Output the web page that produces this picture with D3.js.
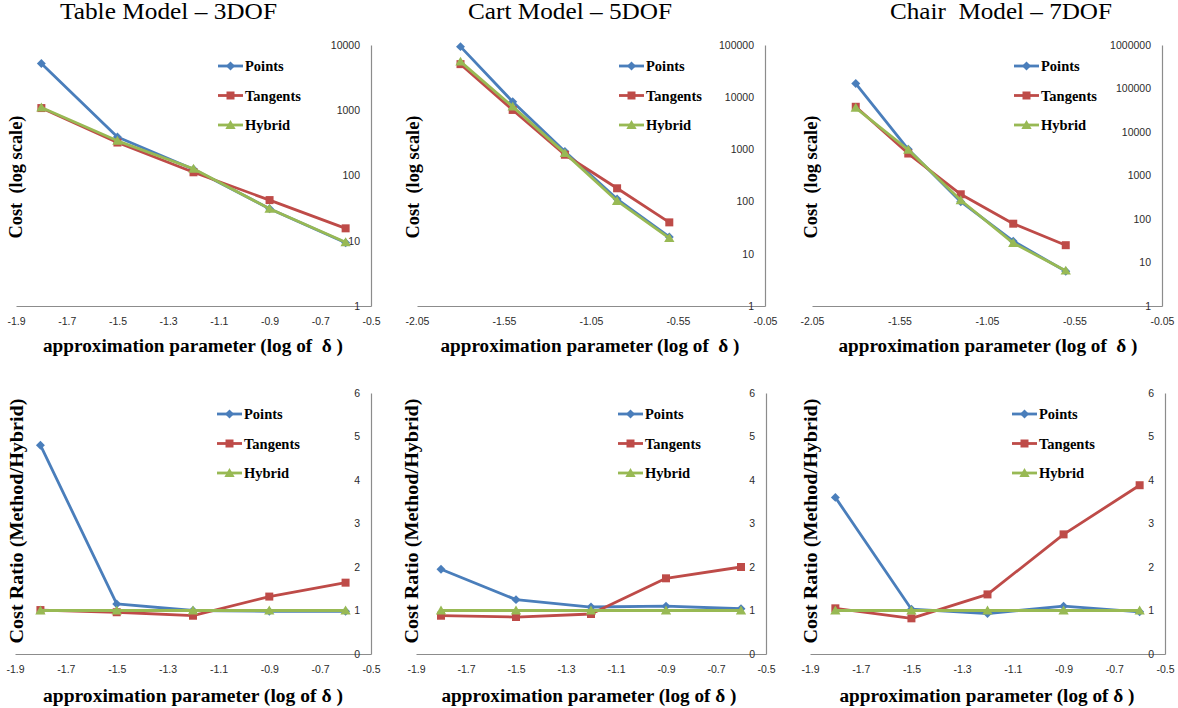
<!DOCTYPE html>
<html>
<head>
<meta charset="utf-8">
<script src="https://cdn.jsdelivr.net/npm/d3@7"></script>
<style>
  body { margin: 0; background: #fff; }
  svg { display: block; }
</style>
</head>
<body>
<div id="chart"></div>
<script>
// x values (log of delta) shared by every panel
const deltas = [-1.8, -1.5, -1.2, -0.9, -0.6];
const seriesNames = ["Points", "Tangents", "Hybrid"];

// cost values
const tablePoints   = [5200, 390, 125, 31, 9.3];
const tableTangents = [1080, 320, 112, 42, 15.5];
const tableHybrid   = [1100, 340, 127, 31, 9.5];

const cartPoints   = [93000, 8200, 910, 112, 21];
const cartTangents = [43000, 5700, 790, 180, 40];
const cartHybrid   = [48000, 6600, 850, 103, 20];

const chairPoints   = [130000, 4000, 250, 31, 6.3];
const chairTangents = [38000, 3200, 370, 78, 25];
const chairHybrid   = [36000, 3900, 270, 28, 6.5];

// cost ratio (method / hybrid)
const tableRatioPoints   = [4.8, 1.15, 1.0, 0.98, 0.98];
const tableRatioTangents = [1.01, 0.96, 0.88, 1.32, 1.64];
const tableRatioHybrid   = [1, 1, 1, 1, 1];

const cartRatioPoints   = [1.95, 1.25, 1.08, 1.1, 1.04];
const cartRatioTangents = [0.88, 0.85, 0.92, 1.74, 2.0];
const cartRatioHybrid   = [1, 1, 1, 1, 1];

const chairRatioPoints   = [3.6, 1.03, 0.93, 1.1, 0.97];
const chairRatioTangents = [1.05, 0.82, 1.37, 2.75, 3.88];
const chairRatioHybrid   = [1, 1, 1, 1, 1];

// tick labels
const xTicksFine = [-1.9, -1.7, -1.5, -1.3, -1.1, -0.9, -0.7, -0.5];
const xTicksWide = [-2.05, -1.55, -1.05, -0.55, -0.05];
const costTicksTable = [1, 10, 100, 1000, 10000];
const costTicksCart  = [1, 10, 100, 1000, 10000, 100000];
const costTicksChair = [1, 10, 100, 1000, 10000, 100000, 1000000];
const ratioTicks = [0, 1, 2, 3, 4, 5, 6];

const titles = ["Table Model \u2013 3DOF", "Cart Model \u2013 5DOF", "Chair\u00a0\u00a0Model \u2013 7DOF"];
const costLabel = "Cost\u00a0\u00a0(log scale)";
const ratioLabel = "Cost Ratio (Method/Hybrid)";
const xLabelTop = "approximation parameter (log of\u00a0\u00a0\u03b4\u00a0)";
const xLabelBottom = "approximation parameter (log of \u03b4\u00a0)";

const colors = {Points: "#4A7EBB", Tangents: "#BE4B48", Hybrid: "#98B954"};
const symbols = {Points: "diamond", Tangents: "square", Hybrid: "triangle"};

const width = 1178, height = 708;
const serif = "'Liberation Serif', 'Times New Roman', serif";
const sans = "'Liberation Sans', Arial, sans-serif";

const svg = d3.select("#chart").append("svg")
  .attr("width", width)
  .attr("height", height);

function marker(g, name, x, y) {
  let path;
  if (symbols[name] == "diamond") {
    path = d3.symbol().type(d3.symbolSquare).size(40)();
    g.append("path").attr("d", path)
      .attr("transform", `translate(${x},${y}) rotate(45)`)
      .attr("fill", colors[name]);
  } else if (symbols[name] == "square") {
    path = d3.symbol().type(d3.symbolSquare).size(64)();
    g.append("path").attr("d", path)
      .attr("transform", `translate(${x},${y})`)
      .attr("fill", colors[name]);
  } else {
    path = d3.symbol().type(d3.symbolTriangle).size(46)();
    g.append("path").attr("d", path)
      .attr("transform", `translate(${x},${y + 1})`)
      .attr("fill", colors[name]);
  }
}

function drawPanel(p) {
  const xScale = d3.scaleLinear().domain(p.xDomain).range([p.x0, p.x1]);
  const yScale = (p.log ? d3.scaleLog() : d3.scaleLinear())
    .domain(p.yDomain).range([p.y1, p.y0]);

  const g = svg.append("g");

  // x axis along the bottom
  const xAxis = g.append("g")
    .attr("transform", `translate(0,${p.y1})`)
    .call(d3.axisBottom(xScale).tickValues(p.xTicks)
      .tickSize(0).tickPadding(12).tickFormat(d => String(d)));
  xAxis.select(".domain").attr("stroke", "#8c8c8c").attr("stroke-width", 1.2);
  xAxis.selectAll("text").attr("font-family", sans).attr("font-size", "10.5px").attr("fill", "#2b2b2b");

  // y axis on the right, labels inside
  const yAxis = g.append("g")
    .attr("transform", `translate(${p.x1},0)`)
    .call(d3.axisLeft(yScale).tickValues(p.yTicks)
      .tickSize(0).tickPadding(11).tickFormat(d => String(d)));
  yAxis.select(".domain").attr("stroke", "#8c8c8c").attr("stroke-width", 1.2);
  yAxis.selectAll("text").attr("font-family", sans).attr("font-size", "10.5px").attr("fill", "#2b2b2b");

  const line = d3.line()
    .x((d, i) => xScale(deltas[i]))
    .y(d => yScale(d));

  seriesNames.forEach((name, k) => {
    const vals = p.series[k];
    g.append("path")
      .datum(vals)
      .attr("d", line)
      .attr("fill", "none")
      .attr("stroke", colors[name])
      .attr("stroke-width", 2.8)
      .attr("stroke-linejoin", "round");
    vals.forEach((v, i) => marker(g, name, xScale(deltas[i]), yScale(v)));
  });

  // legend
  seriesNames.forEach((name, k) => {
    const ly = p.y0 + 21 + k * 29.5;
    const lx = p.x0 + 202;
    g.append("line")
      .attr("x1", lx).attr("x2", lx + 25)
      .attr("y1", ly).attr("y2", ly)
      .attr("stroke", colors[name]).attr("stroke-width", 2.8);
    marker(g, name, lx + 12.5, ly);
    g.append("text")
      .attr("x", lx + 27).attr("y", ly)
      .attr("dy", "0.35em")
      .attr("font-family", serif).attr("font-weight", "bold")
      .attr("font-size", "14.5px")
      .text(name);
  });

  // axis titles
  g.append("text")
    .attr("x", p.xLabelX).attr("y", p.xLabelY)
    .attr("text-anchor", "middle")
    .attr("font-family", serif).attr("font-weight", "bold")
    .attr("font-size", "18px")
    .attr("textLength", p.xLabelW).attr("lengthAdjust", "spacingAndGlyphs")
    .text(p.xLabel);

  g.append("text")
    .attr("transform", `translate(${p.yLabelX},${p.yLabelY}) rotate(-90)`)
    .attr("text-anchor", "middle")
    .attr("font-family", serif).attr("font-weight", "bold")
    .attr("font-size", "19px")
    .attr("textLength", p.yLabelW).attr("lengthAdjust", "spacingAndGlyphs")
    .text(p.yLabel);

  if (p.title) {
    g.append("text")
      .attr("x", p.titleX).attr("y", 19)
      .attr("text-anchor", "middle")
      .attr("font-family", serif)
      .attr("font-size", "23px")
      .attr("textLength", p.titleW).attr("lengthAdjust", "spacingAndGlyphs")
      .text(p.title);
  }
}

// top row: cost on log scale
drawPanel({x0: 16, x1: 371, y0: 45, y1: 306, xDomain: [-1.9, -0.5], xTicks: xTicksFine,
  log: true, yDomain: [1, 10000], yTicks: costTicksTable,
  series: [tablePoints, tableTangents, tableHybrid],
  title: titles[0], titleX: 168.5, titleW: 217,
  xLabel: xLabelTop, xLabelX: 193, xLabelY: 352, xLabelW: 300,
  yLabel: costLabel, yLabelX: 22, yLabelY: 177, yLabelW: 123});

drawPanel({x0: 417, x1: 765, y0: 45, y1: 306, xDomain: [-2.05, -0.05], xTicks: xTicksWide,
  log: true, yDomain: [1, 100000], yTicks: costTicksCart,
  series: [cartPoints, cartTangents, cartHybrid],
  title: titles[1], titleX: 570, titleW: 204,
  xLabel: xLabelTop, xLabelX: 590, xLabelY: 352, xLabelW: 299,
  yLabel: costLabel, yLabelX: 419, yLabelY: 177, yLabelW: 123});

drawPanel({x0: 812, x1: 1162, y0: 45, y1: 306, xDomain: [-2.05, -0.05], xTicks: xTicksWide,
  log: true, yDomain: [1, 1000000], yTicks: costTicksChair,
  series: [chairPoints, chairTangents, chairHybrid],
  title: titles[2], titleX: 1001, titleW: 222,
  xLabel: xLabelTop, xLabelX: 988, xLabelY: 352, xLabelW: 299,
  yLabel: costLabel, yLabelX: 817, yLabelY: 177, yLabelW: 123});

// bottom row: cost ratio
drawPanel({x0: 15, x1: 371, y0: 393, y1: 654, xDomain: [-1.9, -0.5], xTicks: xTicksFine,
  log: false, yDomain: [0, 6], yTicks: ratioTicks,
  series: [tableRatioPoints, tableRatioTangents, tableRatioHybrid],
  xLabel: xLabelBottom, xLabelX: 193, xLabelY: 702, xLabelW: 300,
  yLabel: ratioLabel, yLabelX: 23, yLabelY: 521, yLabelW: 245});

drawPanel({x0: 416, x1: 766, y0: 393, y1: 654, xDomain: [-1.9, -0.5], xTicks: xTicksFine,
  log: false, yDomain: [0, 6], yTicks: ratioTicks,
  series: [cartRatioPoints, cartRatioTangents, cartRatioHybrid],
  xLabel: xLabelBottom, xLabelX: 589, xLabelY: 702, xLabelW: 295,
  yLabel: ratioLabel, yLabelX: 418, yLabelY: 521, yLabelW: 245});

drawPanel({x0: 810, x1: 1165, y0: 393, y1: 654, xDomain: [-1.9, -0.5], xTicks: xTicksFine,
  log: false, yDomain: [0, 6], yTicks: ratioTicks,
  series: [chairRatioPoints, chairRatioTangents, chairRatioHybrid],
  xLabel: xLabelBottom, xLabelX: 987, xLabelY: 702, xLabelW: 295,
  yLabel: ratioLabel, yLabelX: 817, yLabelY: 521, yLabelW: 245});
</script>
</body>
</html>
